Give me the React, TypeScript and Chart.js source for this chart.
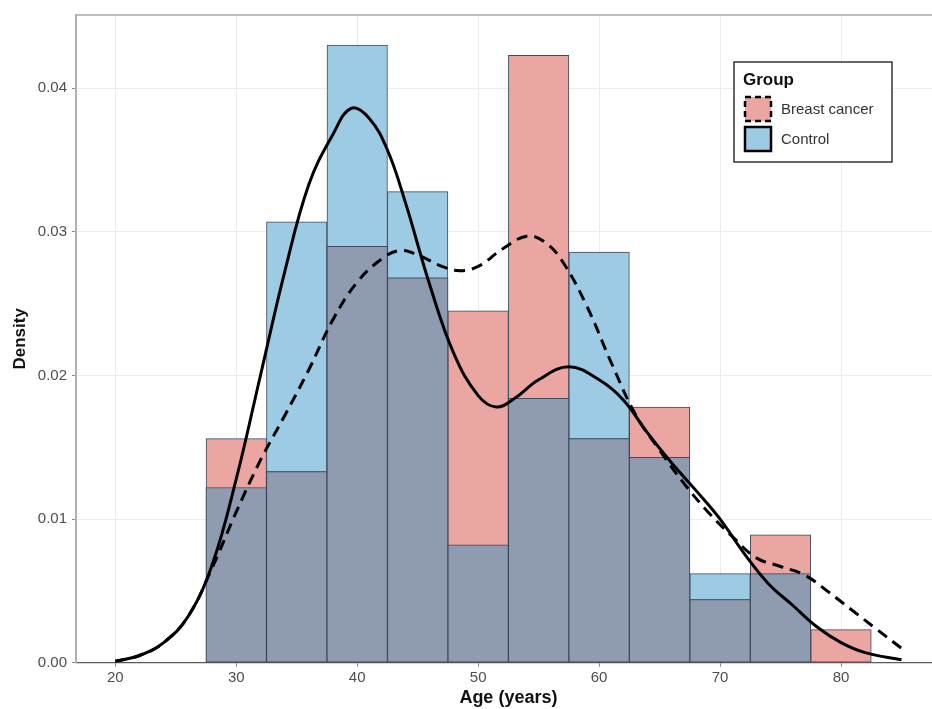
import React, { useEffect, useRef } from "react";
import { Chart, registerables } from "chart.js";

Chart.register(...registerables);

// ---- Data ----
const BIN_CENTERS = [30, 35, 40, 45, 50, 55, 60, 65, 70, 75, 80];
const BC_DENSITY = [0.0156, 0.0133, 0.029, 0.0268, 0.0245, 0.0423, 0.0156, 0.0178, 0.0044, 0.0089, 0.0023];
const CONTROL_DENSITY = [0.0122, 0.0307, 0.043, 0.0328, 0.0082, 0.0184, 0.0286, 0.0143, 0.0062, 0.0062, 0];

const CONTROL_CURVE_X = [20, 22, 24, 26, 28, 30, 32, 34, 36, 38, 39.5, 41, 42.5, 44, 46, 48, 50, 51.5, 53, 55, 57.5, 60, 62, 64, 66, 68, 70, 72, 74, 76, 78, 80, 82, 85];
const CONTROL_CURVE_Y = [0.0001, 0.0005, 0.0014, 0.0032, 0.0068, 0.0128, 0.02, 0.0272, 0.0333, 0.0368, 0.0386, 0.0379, 0.0357, 0.032, 0.0263, 0.0215, 0.0186, 0.0178, 0.0184, 0.0197, 0.0206, 0.0197, 0.0183, 0.016, 0.0139, 0.012, 0.01, 0.0076, 0.0055, 0.004, 0.0025, 0.0014, 0.0007, 0.0002];

const BC_CURVE_X = [20, 22, 24, 26, 28, 30, 32, 34, 36, 38, 40, 42, 43.5, 45, 47, 48.5, 50, 52, 54, 55.5, 57, 59, 61, 63, 65, 67, 69, 71, 73, 75, 77, 79, 81, 83, 85];
const BC_CURVE_Y = [0.0001, 0.0005, 0.0014, 0.0032, 0.0066, 0.0105, 0.0141, 0.0172, 0.0204, 0.0239, 0.0265, 0.0281, 0.0287, 0.0284, 0.0276, 0.0273, 0.0276, 0.0288, 0.0297, 0.0293, 0.0279, 0.0248, 0.0209, 0.0173, 0.0148, 0.0125, 0.0105, 0.0088, 0.0073, 0.0067, 0.0061, 0.0049, 0.0036, 0.0023, 0.001];

const X_TICKS = [20, 30, 40, 50, 60, 70, 80];
const Y_TICKS = [0, 0.01, 0.02, 0.03, 0.04];

const X_TITLE = "Age (years)";
const Y_TITLE = "Density";
const LEGEND_TITLE = "Group";
const GROUP_BC = "Breast cancer";
const GROUP_CONTROL = "Control";

// ---- Styles ----
const FONT = '"Liberation Sans", Arial, Helvetica, sans-serif';
const PINK = "#EBA6A2";
const BLUE = "#9DCBE4";
const OVERLAP = "#8E9BB1";
const BAR_EDGE = "#3F4A5C";

const insideLegend = {
  id: "insideLegend",
  afterDraw(chart: any) {
    const ctx = chart.ctx as CanvasRenderingContext2D;
    const items = [
      { label: GROUP_BC, fill: PINK, dash: [6, 4] },
      { label: GROUP_CONTROL, fill: BLUE, dash: [] as number[] },
    ];
    const x0 = 734, y0 = 62, w = 158, h = 100;
    ctx.save();
    ctx.fillStyle = "#ffffff";
    ctx.fillRect(x0, y0, w, h);
    ctx.strokeStyle = "#333333";
    ctx.lineWidth = 1.5;
    ctx.strokeRect(x0, y0, w, h);
    ctx.fillStyle = "#111111";
    ctx.font = `bold 17px ${FONT}`;
    ctx.textBaseline = "middle";
    ctx.textAlign = "left";
    ctx.fillText(LEGEND_TITLE, 743, 80);
    items.forEach((it, i) => {
      const ky = 97 + i * 30;
      ctx.fillStyle = it.fill;
      ctx.fillRect(745, ky, 26, 24);
      ctx.setLineDash(it.dash);
      ctx.strokeStyle = "#000000";
      ctx.lineWidth = 2.5;
      ctx.strokeRect(745, ky, 26, 24);
      ctx.setLineDash([]);
      ctx.fillStyle = "#333333";
      ctx.font = `15px ${FONT}`;
      ctx.fillText(it.label, 781, ky + 13);
    });
    ctx.restore();
  },
};

const panelTop = {
  id: "panelTop",
  beforeDatasetsDraw(chart: any) {
    const { ctx, chartArea } = chart;
    ctx.save();
    ctx.strokeStyle = "#a8a8a8";
    ctx.lineWidth = 1.5;
    ctx.beginPath();
    ctx.moveTo(chartArea.left, chartArea.top);
    ctx.lineTo(chartArea.right, chartArea.top);
    ctx.stroke();
    ctx.restore();
  },
};

export default function App() {
  const ref = useRef<HTMLCanvasElement>(null);

  useEffect(() => {
    const prevMargin = document.body.style.margin;
    document.body.style.margin = "0";
    const barCommon = {
      type: "bar" as const,
      borderColor: BAR_EDGE,
      borderWidth: 1,
      borderSkipped: false,
      grouped: false,
      barPercentage: 1,
      categoryPercentage: 1,
    };
    const chart = new Chart(ref.current!, {
      type: "bar",
      data: {
        datasets: [
          {
            type: "line",
            label: GROUP_CONTROL,
            data: CONTROL_CURVE_X.map((x, i) => ({ x, y: CONTROL_CURVE_Y[i] })),
            borderColor: "#000000",
            borderWidth: 3,
            pointRadius: 0,
            fill: false,
            tension: 0.4,
            order: 0,
          },
          {
            type: "line",
            label: GROUP_BC,
            data: BC_CURVE_X.map((x, i) => ({ x, y: BC_CURVE_Y[i] })),
            borderColor: "#000000",
            borderWidth: 3,
            borderDash: [11, 7],
            pointRadius: 0,
            fill: false,
            tension: 0.4,
            order: 1,
          },
          {
            ...barCommon,
            label: "Overlap",
            data: BIN_CENTERS.map((x, i) => ({ x, y: Math.min(BC_DENSITY[i], CONTROL_DENSITY[i]) })),
            backgroundColor: OVERLAP,
            order: 2,
          },
          {
            ...barCommon,
            label: GROUP_BC,
            data: BIN_CENTERS.map((x, i) => ({ x, y: BC_DENSITY[i] })),
            backgroundColor: PINK,
            order: 3,
          },
          {
            ...barCommon,
            label: GROUP_CONTROL,
            data: BIN_CENTERS.map((x, i) => ({ x, y: CONTROL_DENSITY[i] })),
            backgroundColor: BLUE,
            order: 3,
          },
        ] as any,
      },
      options: {
        responsive: false,
        animation: false,
        layout: { padding: { top: 15, right: 9.2, left: 0, bottom: 0 } },
        plugins: { legend: { display: false }, tooltip: { enabled: false } },
        scales: {
          x: {
            type: "linear",
            min: 16.75,
            max: 88.25,
            offset: false,
            grid: { offset: false, color: "#EBEBEB", lineWidth: 1, tickColor: "#8a8a8a", tickLength: 4 },
            border: { color: "#5a5a5a", width: 1.3 },
            ticks: { color: "#4d4d4d", font: { size: 15, family: FONT }, padding: 2, maxRotation: 0 },
            title: { display: true, text: X_TITLE, color: "#111111", font: { size: 18, weight: "bold", family: FONT }, padding: 0 },
            afterBuildTicks: (s: any) => {
              s.ticks = X_TICKS.map((v) => ({ value: v }));
            },
            afterFit: (s: any) => {
              s.height = 46.3;
            },
          },
          y: {
            type: "linear",
            min: 0,
            max: 0.0451,
            grid: { color: "#EBEBEB", lineWidth: 1, tickColor: "#8a8a8a", tickLength: 4 },
            border: { color: "#b0b0b0", width: 2 },
            ticks: {
              color: "#4d4d4d",
              font: { size: 15, family: FONT },
              padding: 5,
              callback: (v: any) => Number(v).toFixed(2),
            },
            title: { display: true, text: Y_TITLE, color: "#111111", font: { size: 17, weight: "bold", family: FONT }, padding: { top: 10, bottom: 0 } },
            afterBuildTicks: (s: any) => {
              s.ticks = Y_TICKS.map((v) => ({ value: v }));
            },
            afterFit: (s: any) => {
              s.width = 76;
            },
          },
        },
      } as any,
      plugins: [panelTop, insideLegend],
    });
    return () => {
      chart.destroy();
      document.body.style.margin = prevMargin;
    };
  }, []);

  return (
    <div style={{ position: "fixed", left: 0, top: 0, width: 932, height: 709, overflow: "hidden", background: "#ffffff" }}>
      <canvas ref={ref} width={950} height={709} style={{ display: "block", width: 950, height: 709 }} />
    </div>
  );
}
